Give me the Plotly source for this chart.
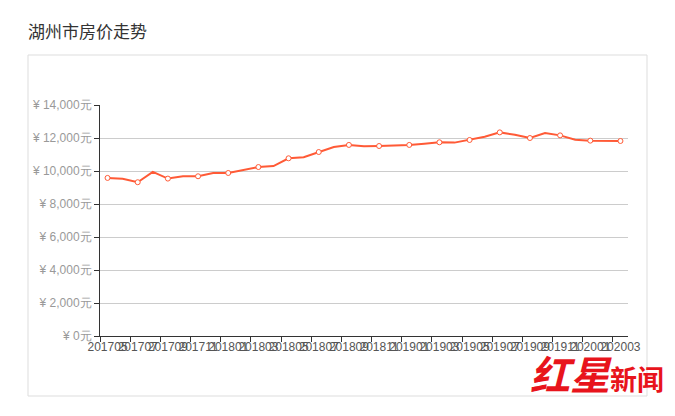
import plotly.graph_objects as go

months = ["201705", "201706", "201707", "201708", "201709", "201710", "201711", "201712",
          "201801", "201802", "201803", "201804", "201805", "201806", "201807", "201808",
          "201809", "201810", "201811", "201812", "201901", "201902", "201903", "201904",
          "201905", "201906", "201907", "201908", "201909", "201910", "201911", "201912",
          "202001", "202002", "202003"]
prices = [9580, 9530, 9320, 9950, 9540, 9680, 9680, 9880,
          9880, 10060, 10240, 10300, 10770, 10830, 11150, 11450,
          11580, 11500, 11515, 11535, 11580, 11650, 11740, 11720,
          11880, 12080, 12340, 12200, 12000, 12300, 12160, 11900,
          11840, 11840, 11820]
y_ticks = [0, 2000, 4000, 6000, 8000, 10000, 12000, 14000]
y_tick_text = ["¥ 0元", "¥ 2,000元", "¥ 4,000元", "¥ 6,000元", "¥ 8,000元",
               "¥ 10,000元", "¥ 12,000元", "¥ 14,000元"]
title_text = "湖州市房价走势"

LINE = "#ff5a36"
FONT = "Noto Sans CJK SC, Liberation Sans, sans-serif"

# page body has an 8px margin; positions below are page pixels minus 8
W, H = 667, 408
PL, PR, PT, PB = 92, 620, 97, 328   # plot area in figure pixels
PW, PH = PR - PL, PB - PT


def px_x(px):
    return (px - 8 - PL) / PW


def px_y(py):
    return (PB - (py - 8)) / PH


fig = go.Figure()
fig.add_trace(go.Scatter(x=months, y=prices, mode="lines",
                         line=dict(color=LINE, width=2), hoverinfo="skip",
                         showlegend=False))
fig.add_trace(go.Scatter(x=months[::2], y=prices[::2], mode="markers",
                         marker=dict(size=5, color="white",
                                     line=dict(color=LINE, width=1)),
                         showlegend=False))

fig.update_layout(
    width=W, height=H,
    margin=dict(l=PL, r=W - PR, t=PT, b=H - PB),
    paper_bgcolor="white", plot_bgcolor="white",
    font=dict(family=FONT),
    title=dict(text=title_text, x=20 / W, xanchor="left",
               y=1 - 24 / H, yanchor="middle",
               font=dict(size=17, color="#333333", family=FONT)),
    showlegend=False,
)
fig.update_xaxes(
    type="category", categoryorder="array", categoryarray=months,
    range=[-0.5, len(months) - 0.5],
    tickmode="linear", tick0=0, dtick=2, tickson="boundaries",
    ticks="outside", ticklen=5, tickcolor="#333333",
    showline=True, linecolor="#333333", linewidth=1,
    showgrid=False, tickangle=0,
    tickfont=dict(size=12, color="#555555", family="Liberation Sans, sans-serif"),
)
fig.update_yaxes(
    range=[0, 14000], tickmode="array", tickvals=y_ticks, ticktext=y_tick_text,
    ticks="outside", ticklen=5, tickcolor="#333333",
    showline=True, linecolor="#333333", linewidth=1,
    showgrid=True, gridcolor="#cccccc", gridwidth=1, zeroline=False,
    tickfont=dict(size=12, color="#999999", family="Liberation Sans, sans-serif"),
)

# container border
fig.add_shape(type="rect", xref="paper", yref="paper",
              x0=px_x(28), x1=px_x(647),
              y0=px_y(396), y1=px_y(55),
              line=dict(color="#dddddd", width=1), layer="below")

# watermark
fig.add_annotation(xref="paper", yref="paper", x=px_x(666),
                   y=px_y(373), xanchor="right", yanchor="middle",
                   showarrow=False,
                   text="<i><b><span style='font-size:40px'>红星</span></b></i>"
                        "<b><span style='font-size:27px'>新闻</span></b>",
                   font=dict(color="#e8141c", family="Noto Sans CJK SC"))

fig.write_html("out.html")
